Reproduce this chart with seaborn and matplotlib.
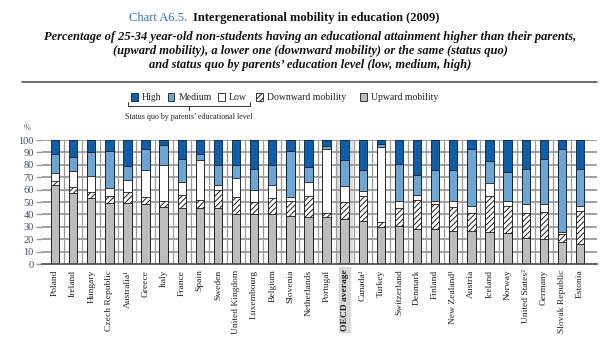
import matplotlib
matplotlib.use("Agg")
import matplotlib.pyplot as plt
from matplotlib.patches import Rectangle
from matplotlib.lines import Line2D
import numpy as np
import pandas as pd
import seaborn as sns

countries = ["Poland", "Ireland", "Hungary", "Czech Republic", "Australia\u00b9", "Greece",
             "Italy", "France", "Spain", "Sweden", "United Kingdom", "Luxembourg",
             "Belgium", "Slovenia", "Netherlands", "Portugal", "OECD average", "Canada\u00b2",
             "Turkey", "Switzerland", "Denmark", "Finland", "New Zealand\u00b9", "Austria",
             "Iceland", "Norway", "United States\u00b2", "Germany", "Slovak Republic", "Estonia"]

upward =   [64, 57, 53, 49, 49, 48, 46, 45, 45, 45, 40, 40, 40, 39, 38, 38, 36, 35,
            30, 31, 28, 28, 27, 27, 26, 25, 21, 20, 18, 16]
downward = [3, 5, 5, 6, 9, 6, 5, 11, 7, 15, 14, 10, 13, 12, 17, 3, 14, 20,
            4, 14, 24, 20, 19, 14, 29, 22, 20, 22, 6, 27]
sq_low =   [6, 13, 13, 6, 10, 22, 29, 10, 32, 4, 15, 10, 11, 3, 11, 52, 13, 4,
            60, 6, 4, 3, 5, 6, 10, 4, 7, 6, 2, 4]
sq_medium = [16, 11, 19, 30, 11, 17, 16, 19, 5, 16, 11, 17, 16, 37, 12, 2, 21, 17,
             3, 30, 16, 25, 25, 46, 18, 23, 29, 37, 67, 30]
sq_high =  [11, 14, 10, 9, 21, 7, 4, 15, 11, 20, 20, 23, 20, 9, 22, 5, 16, 24,
            3, 19, 28, 24, 24, 7, 17, 26, 23, 15, 7, 23]

df = pd.DataFrame({"country": countries, "up": upward, "down": downward,
                   "low": sq_low, "medium": sq_medium, "high": sq_high})
df["c_down"] = df["up"] + df["down"]
df["c_low"] = df["c_down"] + df["low"]
df["c_medium"] = df["c_low"] + df["medium"]
df["c_high"] = df["c_medium"] + df["high"]

sns.set_theme(style="white")
plt.rcParams["font.family"] = ["Liberation Serif", "DejaVu Serif"]
plt.rcParams["hatch.linewidth"] = 0.7
plt.rcParams["hatch.color"] = "#222222"

C_HIGH = "#0b5fb0"
C_MED = "#6aa6d8"
C_LOW = "#ffffff"
C_UP = "#bdbdbd"
GRID = "#9a9a9a"
LABEL = "#3f4c68"

fig = plt.figure(figsize=(6.15, 3.42), dpi=100)
W, H = 615.0, 342.0


def fx(px):
    return px / W


def fy(py):
    return 1 - py / H


ax = fig.add_axes([fx(42), fy(264), fx(597) - fx(42), fy(140) - fy(264)])

oecd_idx = countries.index("OECD average")
ax.axvspan(oecd_idx - 0.47, oecd_idx + 0.47, color="#dcdcdc", zorder=0.5, lw=0)

# stacked bars, drawn as overlaid cumulative totals
layers = [("c_high", C_HIGH, None), ("c_medium", C_MED, None), ("c_low", C_LOW, None),
          ("c_down", "#ffffff", "//////"), ("up", C_UP, None)]
for col, color, hatch in layers:
    sns.barplot(data=df, x="country", y=col, order=countries, color=color,
                width=0.46, edgecolor="#1a1a1a", linewidth=0.6, saturation=1,
                hatch=hatch, ax=ax, zorder=3, errorbar=None)

ax.set_xlim(-0.72, len(countries) - 1 + 0.94)
ax.set_ylim(0, 100)
ax.set_yticks(range(0, 101, 10))
ax.set_ylabel("")
ax.set_xlabel("")

for y in range(10, 101, 10):
    ax.axhline(y, color=GRID, lw=1.3, zorder=1)
for i in range(len(countries) - 1):
    ax.axvline(i + 0.5, color=GRID, lw=0.9, zorder=1)

for s in ["top", "right", "left"]:
    ax.spines[s].set_visible(False)
ax.spines["bottom"].set_color("#444444")
ax.spines["bottom"].set_linewidth(1.2)
ax.spines["bottom"].set_zorder(4)

ax.tick_params(axis="y", length=4, width=1.0, color=GRID, labelsize=7.5,
               labelcolor=LABEL, pad=2, left=True)
ax.tick_params(axis="x", length=0, pad=4)
ax.set_xticks(range(len(countries)))
ax.set_xticklabels(countries, rotation=90, fontsize=6.8, color="#222222")
for lab in ax.get_xticklabels():
    if lab.get_text() == "OECD average":
        lab.set_fontweight("bold")
        lab.set_bbox(dict(facecolor="#d9d9d9", edgecolor="none", pad=1.5))

fig.text(fx(27), fy(128), "%", fontsize=6, color=LABEL, ha="center", va="center")

renderer = fig.canvas.get_renderer()


def text_width(t):
    return t.get_window_extent(renderer=renderer).width


# titles
t1 = fig.text(0, fy(18), "Chart A6.5.", fontsize=9, color="#2e6db4", ha="left", va="center")
t2 = fig.text(0, fy(18), "Intergenerational mobility in education (2009)", fontsize=9,
              fontweight="bold", color="#111111", ha="left", va="center")
gap = 6
total = text_width(t1) + gap + text_width(t2)
start = 284 - total / 2
t1.set_x(fx(start))
t2.set_x(fx(start + text_width(t1) + gap))

subtitle = ["Percentage of 25-34 year-old non-students having an educational attainment higher than their parents,",
            "(upward mobility), a lower one (downward mobility) or the same (status quo)",
            "and status quo by parents\u2019 education level (low, medium, high)"]
for k, line in enumerate(subtitle):
    fig.text(fx(310), fy(37 + 14 * k), line, fontsize=9, fontstyle="italic",
             fontweight="bold", color="#111111", ha="center", va="center")
fig.add_artist(Line2D([fx(22), fx(597)], [fy(82), fy(82)], color="#555555", lw=1.2,
                      transform=fig.transFigure))

# legend, laid out left to right
sq = 7
items = [(C_HIGH, None, "High", 6), (C_MED, None, "Medium", 6),
         (C_LOW, None, "Low", 9), ("#ffffff", "//////", "Downward mobility", 14),
         (C_UP, None, "Upward mobility", 0)]
x = 131
marks = []
for color, hatch, label, after in items:
    fig.add_artist(Rectangle((fx(x), fy(97 + sq / 2)), sq / W, sq / H,
                             facecolor=color, edgecolor="#1a1a1a", lw=0.6, hatch=hatch,
                             transform=fig.transFigure))
    t = fig.text(fx(x + sq + 4), fy(97), label, fontsize=7, color="#222222",
                 ha="left", va="center")
    end = x + sq + 4 + text_width(t)
    marks.append((x, end))
    x = end + after

bx0, bx1, by = marks[0][0] - 3, marks[2][1] + 3, 106
fig.add_artist(Line2D([fx(bx0), fx(bx0), fx(bx1), fx(bx1)], [fy(102), fy(by), fy(by), fy(102)],
                      color="#333333", lw=0.7, transform=fig.transFigure))
fig.add_artist(Line2D([fx((bx0 + bx1) / 2)] * 2, [fy(by), fy(110)],
                      color="#333333", lw=0.7, transform=fig.transFigure))
fig.text(fx((bx0 + bx1) / 2), fy(117), "Status quo by parents\u2019 educational level",
         fontsize=5.8, color="#222222", ha="center", va="center")

fig.savefig("out.png", dpi=100)
